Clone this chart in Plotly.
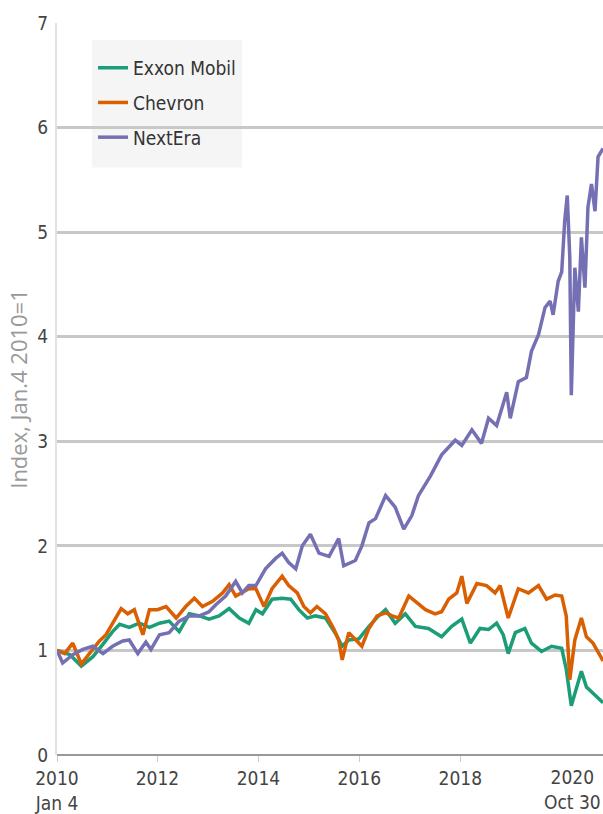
import plotly.graph_objects as go
import pandas as pd

# Decimal-year positions and index values (Jan 4 2010 = 1)
xom_t = [2010.01, 2010.26, 2010.49, 2010.72, 2010.92, 2011.11, 2011.25, 2011.44, 2011.64, 2011.84,
         2012.04, 2012.23, 2012.43, 2012.63, 2012.83, 2013.02, 2013.22, 2013.42, 2013.62, 2013.81,
         2013.95, 2014.08, 2014.27, 2014.47, 2014.64, 2014.80, 2014.97, 2015.13, 2015.33, 2015.53,
         2015.66, 2015.79, 2015.99, 2016.19, 2016.38, 2016.52, 2016.71, 2016.91, 2017.11, 2017.37,
         2017.63, 2017.83, 2018.03, 2018.20, 2018.39, 2018.56, 2018.72, 2018.85, 2018.95, 2019.09,
         2019.28, 2019.41, 2019.61, 2019.81, 2020.01, 2020.10, 2020.20, 2020.30, 2020.40, 2020.50,
         2020.63, 2020.83]
xom_v = [1.00, 0.96, 0.85, 0.94, 1.06, 1.18, 1.25, 1.22, 1.26, 1.22,
         1.26, 1.28, 1.18, 1.35, 1.33, 1.30, 1.33, 1.40, 1.31, 1.26,
         1.39, 1.35, 1.49, 1.50, 1.49, 1.39, 1.31, 1.33, 1.31, 1.16,
         1.04, 1.10, 1.11, 1.23, 1.33, 1.39, 1.26, 1.35, 1.23, 1.21,
         1.13, 1.23, 1.30, 1.07, 1.21, 1.20, 1.26, 1.15, 0.97, 1.17,
         1.21, 1.07, 0.99, 1.04, 1.02, 0.82, 0.47, 0.65, 0.80, 0.65,
         0.59, 0.50]

cvx_t = [2010.01, 2010.16, 2010.32, 2010.49, 2010.65, 2010.85, 2010.98, 2011.15, 2011.28, 2011.41,
         2011.54, 2011.71, 2011.84, 2012.00, 2012.17, 2012.37, 2012.56, 2012.73, 2012.89, 2013.09,
         2013.29, 2013.42, 2013.55, 2013.81, 2013.95, 2014.11, 2014.27, 2014.47, 2014.60, 2014.77,
         2014.90, 2015.03, 2015.16, 2015.33, 2015.49, 2015.59, 2015.66, 2015.79, 2015.92, 2016.05,
         2016.19, 2016.35, 2016.52, 2016.65, 2016.78, 2016.98, 2017.11, 2017.31, 2017.50, 2017.63,
         2017.77, 2017.93, 2018.03, 2018.13, 2018.33, 2018.52, 2018.69, 2018.79, 2018.95, 2019.15,
         2019.35, 2019.55, 2019.71, 2019.88, 2020.01, 2020.10, 2020.17, 2020.27, 2020.40, 2020.50,
         2020.63, 2020.83]
cvx_v = [1.00, 0.97, 1.07, 0.87, 0.97, 1.09, 1.15, 1.30, 1.40, 1.35,
         1.39, 1.15, 1.39, 1.39, 1.42, 1.31, 1.42, 1.50, 1.42, 1.47,
         1.55, 1.63, 1.52, 1.59, 1.59, 1.42, 1.59, 1.71, 1.62, 1.55,
         1.42, 1.36, 1.42, 1.35, 1.21, 1.10, 0.91, 1.17, 1.10, 1.04,
         1.21, 1.33, 1.36, 1.33, 1.31, 1.52, 1.47, 1.39, 1.35, 1.37,
         1.49, 1.55, 1.71, 1.45, 1.64, 1.62, 1.55, 1.62, 1.31, 1.59,
         1.55, 1.62, 1.49, 1.53, 1.52, 1.33, 0.72, 1.10, 1.31, 1.13,
         1.07, 0.90]

nee_t = [2010.01, 2010.12, 2010.32, 2010.52, 2010.72, 2010.92, 2011.11, 2011.31, 2011.44, 2011.61,
         2011.77, 2011.87, 2012.04, 2012.23, 2012.43, 2012.63, 2012.83, 2013.02, 2013.16, 2013.35,
         2013.55, 2013.68, 2013.81, 2013.95, 2014.14, 2014.34, 2014.47, 2014.60, 2014.74, 2014.87,
         2015.03, 2015.20, 2015.40, 2015.59, 2015.69, 2015.92, 2016.05, 2016.19, 2016.32, 2016.52,
         2016.71, 2016.88, 2017.04, 2017.17, 2017.41, 2017.63, 2017.90, 2018.03, 2018.23, 2018.42,
         2018.56, 2018.72, 2018.92, 2018.99, 2019.15, 2019.31, 2019.41, 2019.55, 2019.68, 2019.78,
         2019.84, 2019.94, 2020.01, 2020.07, 2020.12, 2020.17, 2020.20, 2020.27, 2020.34, 2020.40,
         2020.47, 2020.53, 2020.60, 2020.67, 2020.73, 2020.83]
nee_v = [1.00, 0.88, 0.96, 1.01, 1.04, 0.97, 1.04, 1.09, 1.10, 0.97,
         1.08, 1.01, 1.15, 1.17, 1.28, 1.33, 1.33, 1.37, 1.44, 1.52,
         1.66, 1.55, 1.62, 1.62, 1.78, 1.88, 1.93, 1.84, 1.78, 2.00,
         2.11, 1.93, 1.90, 2.07, 1.81, 1.86, 2.00, 2.22, 2.26, 2.48,
         2.37, 2.16, 2.29, 2.48, 2.67, 2.87, 3.01, 2.96, 3.11, 2.98,
         3.22, 3.15, 3.47, 3.22, 3.57, 3.61, 3.86, 4.02, 4.28, 4.34,
         4.21, 4.53, 4.62, 5.11, 5.35, 4.76, 3.44, 4.66, 4.24, 4.95,
         4.47, 5.24, 5.46, 5.20, 5.72, 5.80]

names = ["Exxon Mobil", "Chevron", "NextEra"]
colors = ["#1b9e77", "#d95f02", "#7570b3"]

x_tickvals = ["2010-01-04", "2012-01-01", "2014-01-01", "2016-01-01", "2018-01-01"]
x_ticktext = ["2010<br>Jan 4", "2012", "2014", "2016", "2018"]
end_label = "2020<br>Oct 30"
y_title = "Index, Jan.4 2010=1"


def to_dates(ts):
    base = pd.Timestamp("2010-01-01")
    return [base + pd.to_timedelta((t - 2010.0) * 365.25, unit="D") for t in ts]


FONT = "DejaVu Sans Condensed, Liberation Sans Narrow, sans-serif"

fig = go.Figure()
for i, (t, v) in enumerate([(xom_t, xom_v), (cvx_t, cvx_v), (nee_t, nee_v)]):
    fig.add_trace(go.Scatter(x=to_dates(t), y=v, mode="lines", name=names[i],
                             legendgroup=names[i],
                             line=dict(color=colors[i], width=3.5)))

fig.update_layout(
    width=603, height=814,
    margin=dict(l=57, r=0, t=23, b=56),
    paper_bgcolor="white", plot_bgcolor="white",
    font=dict(family=FONT, size=19, color="#444"),
    showlegend=True,
    legend=dict(x=0.066, y=0.9646, xanchor="left", yanchor="top",
                bgcolor="rgba(0,0,0,0)", borderwidth=0,
                font=dict(family=FONT, size=19, color="#333"),
                tracegroupgap=7, itemwidth=30),
    shapes=[dict(type="rect", xref="paper", yref="paper", x0=0.064, x1=0.339,
                 y0=0.8027, y1=0.9769, fillcolor="#f5f5f5", line=dict(width=0),
                 layer="below")],
)
fig.update_xaxes(
    type="date", range=["2010-01-04", "2020-10-30"],
    tickvals=x_tickvals, ticktext=x_ticktext,
    ticks="outside", ticklen=6, tickcolor="#cccccc", tickwidth=1,
    showgrid=False, showline=False, zeroline=False,
    tickfont=dict(family=FONT, size=19, color="#444"),
)
fig.update_yaxes(
    range=[0, 7], dtick=1, tick0=0,
    showgrid=True, gridcolor="#c8c8c8", gridwidth=2.5,
    zeroline=True, zerolinecolor="#999999", zerolinewidth=2,
    showline=True, linecolor="#e2e2e2", linewidth=2, mirror=False,
    ticks="", ticklabelstandoff=3,
    tickfont=dict(family=FONT, size=19, color="#444"),
    title=dict(text=y_title, font=dict(family="Open Sans, DejaVu Sans, sans-serif",
                                       size=22, color="#999999"), standoff=4),
)
fig.add_annotation(text=end_label, xref="paper", yref="paper", x=1.0, y=0,
                   xanchor="right", yanchor="top", yshift=-9, showarrow=False,
                   align="center", font=dict(family=FONT, size=19, color="#444"))
fig.write_html("out.html", config={"displayModeBar": False},
               post_script="document.body.style.margin='0';"
                           "document.body.style.overflow='hidden';")
